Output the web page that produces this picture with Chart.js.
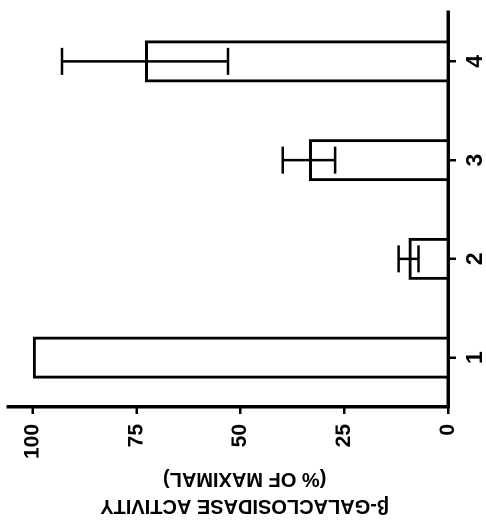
<!DOCTYPE html>
<html>
<head>
<meta charset="utf-8">
<script src="https://cdn.jsdelivr.net/npm/chart.js@4"></script>
<style>
    html, body { margin: 0; padding: 0; background: #fff; overflow: hidden; }
    /* the figure is drawn upright and then turned a quarter turn, like the printed page */
    #wrap {
        position: absolute; left: 0; top: 0;
        width: 525px; height: 486px;
        transform-origin: 0 0;
        transform: translateY(525px) rotate(-90deg);
    }
</style>
</head>
<body>
<div id="wrap"><canvas id="galChart" width="525" height="486"></canvas></div>
<script>
// data
const categories = ['1', '2', '3', '4'];
const activity = [100, 9.5, 33.5, 73];
const activityErr = [0, 2.4, 6.3, 20];
const yTicks = [0, 25, 50, 75, 100];
// trailing nbsp nudges the centred title toward the zero end, as printed
const yTitle = ['\u03B2-GALACLOSIDASE ACTIVITY\u00A0\u00A0\u00A0\u00A0\u00A0\u00A0', '(% OF MAXIMAL)\u00A0\u00A0\u00A0\u00A0\u00A0\u00A0'];

const FONT = "'Liberation Sans', Arial, sans-serif";

// error bars: stem through the bar end with a cap at each side
const errorBars = {
    id: 'errorBars',
    afterDatasetsDraw(chart) {
        const ctx = chart.ctx;
        const xs = chart.scales.x, ys = chart.scales.y;
        ctx.save();
        ctx.strokeStyle = '#000';
        ctx.lineWidth = 2.5;
        activity.forEach((v, i) => {
            const e = activityErr[i];
            if (!e) return;
            const x = xs.getPixelForValue(i);
            const yLo = ys.getPixelForValue(v - e);
            const yHi = ys.getPixelForValue(v + e);
            const half = 13.5;
            ctx.beginPath();
            ctx.moveTo(x, yLo); ctx.lineTo(x, yHi);
            ctx.moveTo(x - half, yLo); ctx.lineTo(x + half, yLo);
            ctx.moveTo(x - half, yHi); ctx.lineTo(x + half, yHi);
            ctx.stroke();
        });
        ctx.restore();
    }
};

Chart.defaults.font.family = FONT;
Chart.defaults.font.weight = 'bold';
Chart.defaults.color = '#000';

new Chart(document.getElementById('galChart').getContext('2d'), {
    type: 'bar',
    data: {
        labels: categories,
        datasets: [{
            data: activity,
            backgroundColor: '#fff',
            borderColor: '#000',
            borderWidth: 3,
            barPercentage: 0.425,
            categoryPercentage: 1
        }]
    },
    options: {
        responsive: false,
        animation: false,
        devicePixelRatio: 2,
        layout: { padding: { top: 8, right: 12, left: 0, bottom: 0 } },
        plugins: { legend: { display: false }, tooltip: { enabled: false } },
        scales: {
            x: {
                grid: { drawOnChartArea: false, offset: false, color: '#000', lineWidth: 2.5, tickLength: 8 },
                border: { color: '#000', width: 3.5 },
                ticks: { font: { size: 23, weight: 'bold' }, padding: 6, maxRotation: 0 },
                afterFit: (s) => { s.height = 38; s.paddingLeft = 0; s.paddingRight = 0; }
            },
            y: {
                min: 0, max: 106,
                afterBuildTicks: (s) => { s.ticks = yTicks.map(v => ({ value: v })); },
                afterFit: (s) => { s.width = 118; s.paddingTop = 0; s.paddingBottom = 0; },
                grid: { drawOnChartArea: false, color: '#000', lineWidth: 2.5, tickLength: 7 },
                border: { color: '#000', width: 3.5 },
                ticks: { font: { size: 21, weight: 'bold' }, padding: 10 },
                title: {
                    display: true,
                    text: yTitle,
                    font: { size: 20, weight: 'bold', lineHeight: 1.35 },
                    padding: { top: 6, bottom: 0 }
                }
            }
        }
    },
    plugins: [errorBars]
});
</script>
</body>
</html>
